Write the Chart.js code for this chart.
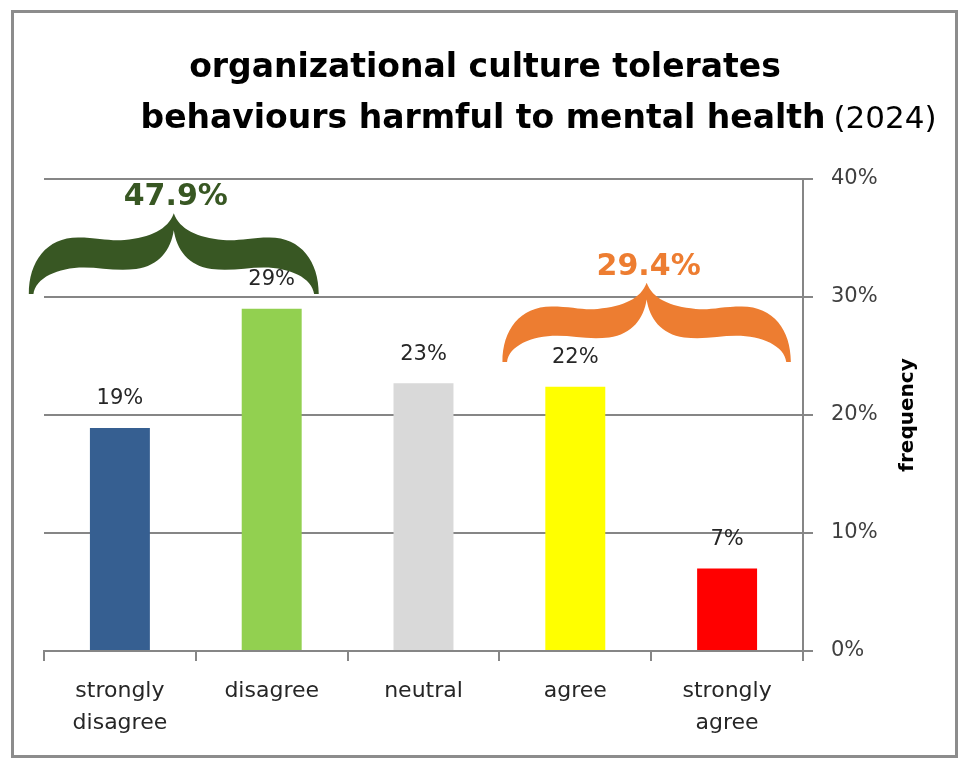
<!DOCTYPE html>
<html><head><meta charset="utf-8">
<script src="https://cdn.jsdelivr.net/npm/chart.js@4.4.1/dist/chart.umd.min.js"></script>
<style>
html,body{margin:0;padding:0;background:#fff;}
canvas{display:block;}
</style></head><body>
<canvas id="c" width="962" height="760"></canvas>
<script>
// ---- data ----
const categories = [['strongly', 'disagree'], 'disagree', 'neutral', 'agree', ['strongly', 'agree']];
const frequency = [18.9, 29.0, 22.7, 22.4, 7.0];
const yTicks = [0, 10, 20, 30, 40];
const titleLines = ['organizational culture tolerates', 'behaviours harmful to mental health'];
const titleSuffix = '(2024)';
const axisTitle = 'frequency';
const groupFrom = [0, 3];
const groupTo = [1, 4];

// ---- styles / layout ----
const barColors = ['#365F91', '#92D050', '#D9D9D9', '#FFFF00', '#FF0000'];
const groupColors = ['#385723', '#ED7D31'];
const braceLayout = [
  {left: -0.60, right: 0.31, top: 37.1, bottom: 30.25},
  {left: -0.48, right: 0.42, top: 31.2, bottom: 24.5}
];
const FONT = 'DejaVu Sans';
const GRID = '#868686';

function bracePath(ctx, x0, x1, yT, yB) {
  const W = x1 - x0, H = yB - yT;
  const P = (u, v) => [x0 + u * W, yT + v * H];
  const segs = [
    ['M', 0.5, 0],
    ['C', 0.48, 0.2, 0.42, 0.30, 0.33, 0.33],
    ['C', 0.28, 0.35, 0.24, 0.30, 0.17, 0.30],
    ['C', 0.06, 0.30, 0.0, 0.6, 0.0, 1.0],
    ['L', 0.016, 1.0],
    ['C', 0.022, 0.8, 0.10, 0.67, 0.19, 0.67],
    ['C', 0.25, 0.67, 0.30, 0.72, 0.37, 0.69],
    ['C', 0.45, 0.65, 0.49, 0.45, 0.5, 0.21],
    ['C', 0.51, 0.45, 0.55, 0.65, 0.63, 0.69],
    ['C', 0.70, 0.72, 0.75, 0.67, 0.81, 0.67],
    ['C', 0.90, 0.67, 0.978, 0.8, 0.984, 1.0],
    ['L', 1.0, 1.0],
    ['C', 1.0, 0.6, 0.94, 0.30, 0.83, 0.30],
    ['C', 0.76, 0.30, 0.72, 0.35, 0.67, 0.33],
    ['C', 0.58, 0.30, 0.52, 0.2, 0.5, 0]
  ];
  ctx.beginPath();
  for (const s of segs) {
    if (s[0] === 'M') ctx.moveTo(...P(s[1], s[2]));
    else if (s[0] === 'L') ctx.lineTo(...P(s[1], s[2]));
    else ctx.bezierCurveTo(...P(s[1], s[2]), ...P(s[3], s[4]), ...P(s[5], s[6]));
  }
  ctx.closePath();
}

const decor = {
  id: 'decor',
  afterDraw(chart) {
    const ctx = chart.ctx;
    const xs = chart.scales.x, ys = chart.scales.y;
    ctx.save();
    // outer frame
    ctx.strokeStyle = '#8c8c8c';
    ctx.lineWidth = 3;
    ctx.strokeRect(12.5, 11.5, 944, 745);

    // title
    ctx.fillStyle = '#000';
    ctx.textBaseline = 'alphabetic';
    ctx.textAlign = 'center';
    ctx.font = 'bold 33px "' + FONT + '"';
    ctx.fillText(titleLines[0], 485, 77);
    ctx.fillText(titleLines[1], 483, 128);
    const w2 = ctx.measureText(titleLines[1]).width;
    ctx.textAlign = 'left';
    ctx.font = '31px "' + FONT + '"';
    ctx.fillText(titleSuffix, 483 + w2 / 2 + 8, 128);

    // axis title (reads bottom to top)
    ctx.save();
    ctx.translate(908, (ys.top + ys.bottom) / 2);
    ctx.rotate(-Math.PI / 2);
    ctx.textAlign = 'center';
    ctx.textBaseline = 'middle';
    ctx.font = 'bold 20px "' + FONT + '"';
    ctx.fillText(axisTitle, 0, 0);
    ctx.restore();

    // value labels
    const meta = chart.getDatasetMeta(0);
    ctx.fillStyle = '#262626';
    ctx.font = '21px "' + FONT + '"';
    ctx.textAlign = 'center';
    ctx.textBaseline = 'middle';
    meta.data.forEach((el, i) => {
      ctx.fillText(Math.round(frequency[i]) + '%', el.x, el.y - 29);
    });

    // braces with group totals
    const cw = xs.getPixelForValue(1) - xs.getPixelForValue(0);
    groupFrom.forEach((f, g) => {
      const t = groupTo[g], L = braceLayout[g];
      const x0 = xs.getPixelForValue(f) + L.left * cw;
      const x1 = xs.getPixelForValue(t) + L.right * cw;
      const yT = ys.getPixelForValue(L.top), yB = ys.getPixelForValue(L.bottom);
      ctx.fillStyle = groupColors[g];
      bracePath(ctx, x0, x1, yT, yB);
      ctx.fill();
      let sum = 0;
      for (let i = f; i <= t; i++) sum += frequency[i];
      ctx.font = 'bold 30px "' + FONT + '"';
      ctx.textAlign = 'center';
      ctx.textBaseline = 'middle';
      ctx.fillText(sum.toFixed(1) + '%', (x0 + x1) / 2 + 2, yT - 16);
    });
    ctx.restore();
  }
};

new Chart(document.getElementById('c'), {
  type: 'bar',
  data: {
    labels: categories,
    datasets: [{data: frequency, backgroundColor: barColors, borderWidth: 0,
      barPercentage: 0.395, categoryPercentage: 1}]
  },
  options: {
    responsive: false,
    animation: false,
    layout: {padding: {left: 44, top: 179, right: 0, bottom: 0}},
    plugins: {legend: {display: false}, tooltip: {enabled: false}, title: {display: false}},
    scales: {
      x: {
        grid: {display: true, drawOnChartArea: false, drawTicks: true, tickLength: 10,
          color: GRID, lineWidth: 2, offset: true},
        border: {display: true, color: GRID, width: 2},
        ticks: {font: {family: FONT, size: 22, lineHeight: 1.45}, color: '#262626', padding: 14,
          maxRotation: 0, autoSkip: false},
        afterFit(s) { s.height = 109; }
      },
      y: {
        position: 'right',
        min: 0, max: 40,
        afterBuildTicks(s) { s.ticks = yTicks.map(v => ({value: v})); },
        grid: {color: GRID, lineWidth: 2, tickLength: 10, drawTicks: true},
        border: {display: true, color: GRID, width: 2},
        ticks: {font: {family: FONT, size: 21}, color: '#404040', padding: 18,
          callback: v => v + '%'},
        afterFit(s) { s.width = 159; }
      }
    }
  },
  plugins: [decor]
});
</script>
</body></html>
